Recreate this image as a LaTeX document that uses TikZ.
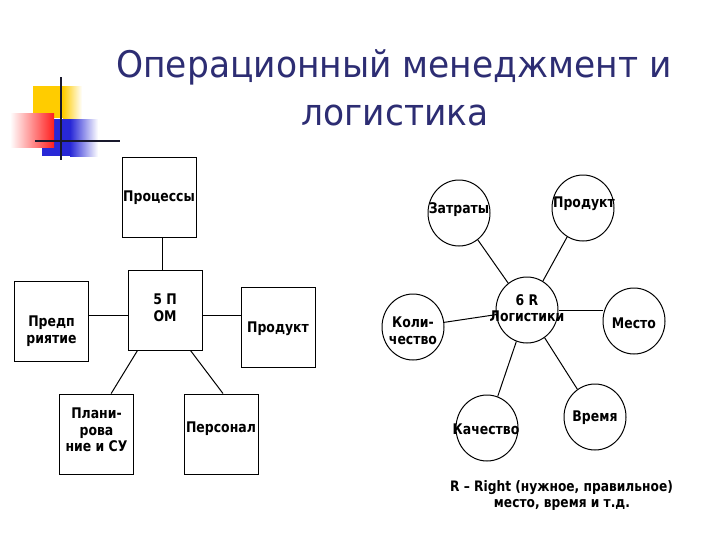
\documentclass[tikz,border=0pt]{standalone}
\usepackage{fontspec}
\setmainfont{DejaVu Sans}
\newfontfamily\titlefont[FakeStretch=0.94]{DejaVu Sans}
\newfontfamily\nodefont[FakeStretch=0.85]{DejaVu Sans}
\usetikzlibrary{shapes.geometric,calc}
\definecolor{titleblue}{RGB}{45,45,115}
\definecolor{logoyellow}{RGB}{255,204,0}
\definecolor{logored}{RGB}{255,30,30}
\definecolor{logoblue}{RGB}{40,40,215}
\definecolor{logoline}{RGB}{25,25,45}
\begin{document}
\begin{tikzpicture}[x=0.75pt,y=-0.75pt,
  box/.style={draw=black,line width=0.75pt,minimum width=55.5pt,minimum height=60pt,inner sep=0pt},
  circ/.style={draw=black,line width=0.75pt,ellipse,minimum width=46.5pt,minimum height=49.5pt,inner sep=0pt},
  txt/.style={font=\nodefont\bfseries\fontsize{11}{12.5}\selectfont,align=center,inner sep=0pt},
  captxt/.style={font=\nodefont\bfseries\fontsize{10.8}{12}\selectfont,inner sep=0pt,anchor=base},
  ttl/.style={font=\titlefont\fontsize{27.5}{33}\selectfont,text=titleblue,inner sep=0pt,anchor=base},
  conn/.style={draw=black,line width=0.75pt}]
\useasboundingbox[fill=white] (0,0) rectangle (720,540);

% logo
\fill[logoyellow] (33,86) rectangle (63,118);
\shade[left color=logoyellow,right color=white] (63,86) rectangle (82,118);
\fill[logoblue] (42,119) rectangle (70,156);
\shade[left color=logoblue,right color=white] (70,119) rectangle (98,156);
\shade[left color=white,right color=logored] (10,113) rectangle (54,147);
\draw[logoline,line width=1.6pt] (35,141) -- (120,141);
\draw[logoline,line width=2.2pt] (61,77) -- (61,160);

% title
\node[ttl] (title1) at (394,77) {Операционный менеджмент и};
\node[ttl] (title2) at (395,125) {логистика};

% left diagram: boxes
\node[box] (proc) at (159,197) {};
\node[box] (pom) at (165,310) {};
\node[box] (pred) at (51.5,321.5) {};
\node[box] (prod1) at (278,327.5) {};
\node[box] (plan) at (96.5,434) {};
\node[box] (pers) at (221,434) {};

\node[txt] (tproc) at (159,198) {Процессы};
\node[txt] (tpom) at (165,308) {5 П\\ОМ};
\node[txt] (tpred) at (51.5,331) {Предп\\риятие};
\node[txt] (tprod1) at (278,329) {Продукт};
\node[txt] (tplan) at (96.5,430) {Плани-\\рова\\ние и СУ};
\node[txt] (tpers) at (221,429) {Персонал};

\draw[conn] ([xshift=2.25pt]proc.south) -- ([xshift=-2.25pt]pom.north);
\draw[conn] ([yshift=-3.75pt]pom.west) -- ([yshift=-3.75pt]pom.west -| pred.east);
\draw[conn] ([yshift=-3.75pt]pom.east) -- ([yshift=-3.75pt]pom.east -| prod1.west);
\draw[conn] ([xshift=7.5pt]pom.south west) -- ([xshift=11pt]plan.north);
\draw[conn] ([xshift=-9pt]pom.south east) -- ([xshift=1.5pt]pers.north);

% right diagram: circles
\node[circ] (zat) at (459,213) {};
\node[circ] (prod2) at (583,208) {};
\node[circ] (r6) at (527,310) {};
\node[circ] (kol) at (413,327) {};
\node[circ] (mesto) at (634,321) {};
\node[circ] (kach) at (487,428) {};
\node[circ] (vrem) at (595,417) {};

\node[txt] (tzat) at (459,210) {Затраты};
\node[txt] (tprod2) at (584,204) {Продукт};
\node[txt] (tr6) at (527,308) {6 R\\Логистики};
\node[txt] (tkol) at (413,331) {Коли-\\чество};
\node[txt] (tmesto) at (634,323) {Место};
\node[txt] (tkach) at (486,429) {Качество};
\node[txt] (tvrem) at (595,418) {Время};

\draw[conn] (zat) -- (r6);
\draw[conn] (prod2) -- (r6);
\draw[conn] (kol) -- (r6);
\draw[conn] (kach) -- (r6);
\draw[conn] (vrem) -- (r6);
\draw[conn] (r6.east) -- (r6.east -| mesto.west);

% caption
\node[captxt] (cap1) at (561.5,491) {R – Right (нужное, правильное)};
\node[captxt] (cap2) at (562,507) {место, время и т.д.};
\end{tikzpicture}
\end{document}
